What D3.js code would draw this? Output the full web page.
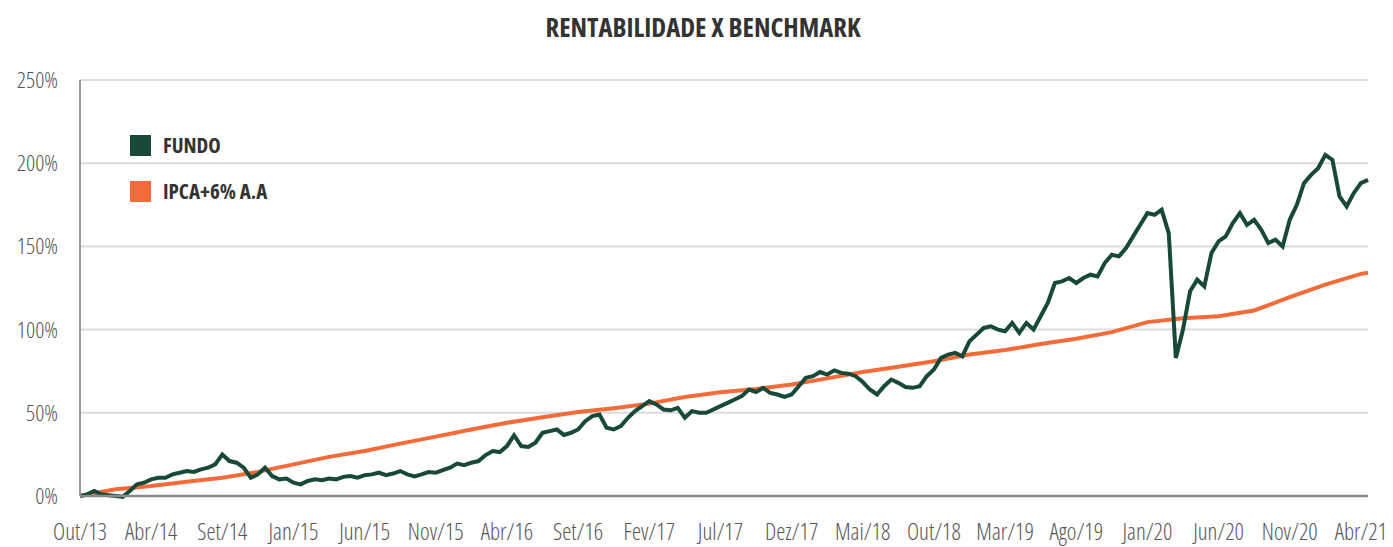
<!DOCTYPE html>
<html>
<head>
<meta charset="utf-8">
<script src="https://cdn.jsdelivr.net/npm/d3@7"></script>
<style>
  html, body { margin: 0; padding: 0; background: #fff; overflow: hidden; }
  svg { display: block; }
  svg text { font-family: "Open Sans", "Liberation Sans Narrow", sans-serif; font-stretch: condensed; }
</style>
</head>
<body>
<div id="chart"></div>
<script>
// constants
const W = 1393
const H = 547
const margin = {top: 80, right: 25, bottom: 51, left: 80}
const innerWidth = W - margin.left - margin.right
const innerHeight = H - margin.top - margin.bottom

const colorFundo = '#174936'
const colorIpca = '#f26b38'

// data (values in %, one point per equal step along the x axis)
const tickLabels = ['Out/13', 'Abr/14', 'Set/14', 'Jan/15', 'Jun/15', 'Nov/15', 'Abr/16', 'Set/16',
  'Fev/17', 'Jul/17', 'Dez/17', 'Mai/18', 'Out/18', 'Mar/19', 'Ago/19', 'Jan/20', 'Jun/20', 'Nov/20', 'Abr/21']
const tickStep = 10

const yTicks = [0, 50, 100, 150, 200, 250]

const fundo = [
  0, 1, 3, 1, 0.5, 0, -0.5, 3, 7, 8,
  10, 11, 11, 13, 14, 15, 14.5, 16, 17, 19,
  25, 21, 20, 17, 11, 13, 17, 12, 10, 10.5,
  8, 7, 9, 10, 9.5, 10.5, 10, 11.5, 12, 11,
  12.5, 13, 14, 12.5, 13.5, 15, 13, 11.8, 13, 14.4,
  14, 15.5, 17, 19.5, 18.5, 20, 21, 24.6, 27, 26.4,
  30, 36.5, 30, 29.5, 32, 38, 39, 40, 36.7, 38,
  40, 45, 48, 49, 41, 40, 42, 47, 51, 54,
  57, 55, 52, 51.5, 53, 47, 51, 50, 50, 52,
  54, 56, 58, 60, 64, 62.5, 65, 62, 61, 59.5,
  61, 66, 71, 72, 74.5, 73, 75.5, 74, 73.5, 72,
  68.5, 64, 61, 66, 70, 68, 65.5, 65, 66, 72,
  76, 83, 85, 86, 84, 93, 97, 101, 102, 100,
  99, 104, 98, 104, 100, 108, 116, 128, 129, 131,
  128, 131, 133, 132, 140, 145, 144, 149, 156, 163,
  170, 169, 172, 158, 83, 100, 123, 130, 126, 146,
  153, 156, 164, 170, 163, 166, 160, 152, 154, 150,
  166, 175, 188, 193, 197, 205, 202, 180, 174, 182,
  188, 190
]

// benchmark read every 5 steps, last point at the right edge
const ipcaIdx = [0, 5, 10, 15, 20, 25, 30, 35, 40, 45, 50, 55, 60, 65, 70, 75, 80, 85, 90,
  95, 100, 105, 110, 115, 120, 125, 130, 135, 140, 145, 150, 155, 160, 165, 170, 175, 180, 181]
const ipca = [0, 4, 6, 8.5, 11, 14.5, 19, 23.5, 27, 31.5, 35.7, 40, 44, 47.3, 50.5, 52.8, 55.5, 59.5, 62.3,
  64.3, 67, 70.7, 74.5, 77.7, 81, 85, 87.7, 91.3, 94.5, 98.5, 104.5, 106.8, 108, 111.5, 119.5, 127, 133.5, 134.2]

const legendItems = [
  {label: 'FUNDO', color: colorFundo},
  {label: 'IPCA+6% A.A', color: colorIpca}
]

const svg = d3.select('#chart')
  .append('svg')
    .attr('width', W)
    .attr('height', H)

// title
svg.append('text')
  .attr('x', 703)
  .attr('y', 37)
  .attr('text-anchor', 'middle')
  .attr('font-size', 26)
  .attr('font-weight', 'bold')
  .attr('fill', '#333')
  .attr('textLength', 315)
  .attr('lengthAdjust', 'spacingAndGlyphs')
  .text('RENTABILIDADE X BENCHMARK')

const g = svg.append('g')
  .attr('transform', `translate(${margin.left}, ${margin.top})`)

const x = d3.scaleLinear()
  .domain([0, fundo.length - 1])
  .range([0, innerWidth])

const y = d3.scaleLinear()
  .domain([0, 250])
  .range([innerHeight, 0])

// grid
g.append('g')
  .selectAll('line')
  .data(yTicks.filter(d => d > 0))
  .join('line')
    .attr('x1', 0)
    .attr('x2', innerWidth)
    .attr('y1', d => y(d))
    .attr('y2', d => y(d))
    .attr('stroke', '#dcdcdc')
    .attr('stroke-width', 2)

// y axis labels
g.append('g')
  .selectAll('text')
  .data(yTicks)
  .join('text')
    .attr('x', -22)
    .attr('y', d => y(d) + 8)
    .attr('text-anchor', 'end')
    .attr('font-size', 22.5)
    .attr('font-weight', 300)
    .attr('fill', '#555')
    .text(d => d + '%')

// x axis labels
g.append('g')
  .selectAll('text')
  .data(tickLabels)
  .join('text')
    .attr('x', (d, i) => x(i * tickStep))
    .attr('y', innerHeight + 44)
    .attr('text-anchor', 'middle')
    .attr('font-size', 23)
    .attr('font-weight', 300)
    .attr('fill', '#555')
    .text(d => d)

// lines
g.append('path')
  .datum(ipca)
  .attr('d', d3.line()
    .x((d, i) => x(ipcaIdx[i]))
    .y(d => y(d)))
  .attr('fill', 'none')
  .attr('stroke', colorIpca)
  .attr('stroke-width', 4)

g.append('path')
  .datum(fundo)
  .attr('d', d3.line()
    .x((d, i) => x(i))
    .y(d => y(d)))
  .attr('fill', 'none')
  .attr('stroke', colorFundo)
  .attr('stroke-width', 4)
  .attr('stroke-linejoin', 'miter')

// axis lines
g.append('line')
  .attr('x1', 0).attr('x2', 0)
  .attr('y1', 0).attr('y2', innerHeight)
  .attr('stroke', '#9a9a9a')
  .attr('stroke-width', 2)
g.append('line')
  .attr('x1', 0).attr('x2', innerWidth)
  .attr('y1', innerHeight).attr('y2', innerHeight)
  .attr('stroke', '#8a8a8a')
  .attr('stroke-width', 2.5)

// legend
const legend = svg.append('g')
  .attr('transform', 'translate(130, 135)')
legend.selectAll('rect')
  .data(legendItems)
  .join('rect')
    .attr('x', 0)
    .attr('y', (d, i) => i * 46)
    .attr('width', 21)
    .attr('height', 21)
    .attr('fill', d => d.color)
legend.selectAll('text')
  .data(legendItems)
  .join('text')
    .attr('x', 33)
    .attr('y', (d, i) => i * 46 + 18)
    .attr('font-size', 21)
    .attr('font-weight', 'bold')
    .attr('fill', '#333')
    .text(d => d.label)
</script>
</body>
</html>
